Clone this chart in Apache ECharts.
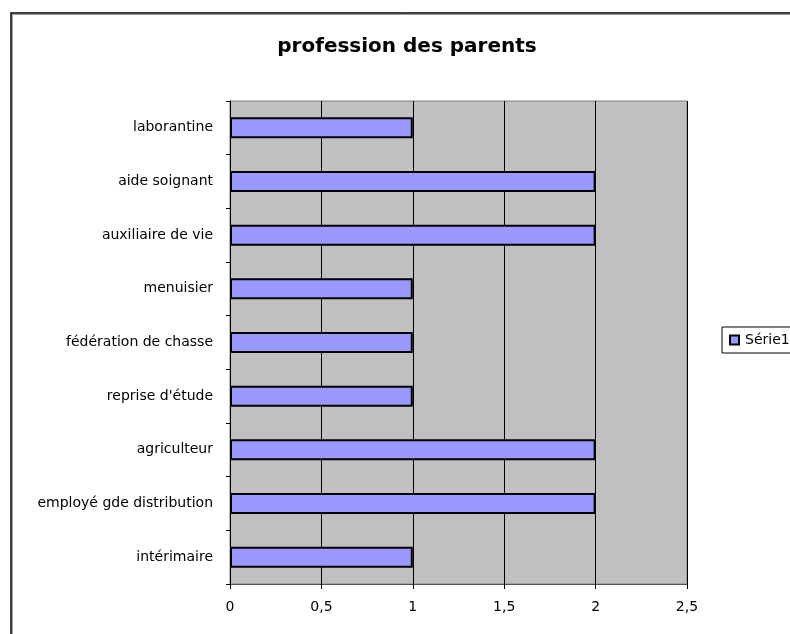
<!DOCTYPE html>
<html>
<head>
<meta charset="utf-8">
<script src="https://cdn.jsdelivr.net/npm/echarts@6/dist/echarts.min.js"></script>
<style>
html,body{margin:0;padding:0;background:#fff;}
#chart{width:790px;height:634px;}
</style>
</head>
<body>
<div id="chart"></div>
<script>
var titleText = 'profession des parents';
var categories = ['laborantine', 'aide soignant', 'auxiliaire de vie', 'menuisier', 'fédération de chasse', "reprise d'étude", 'agriculteur', 'employé gde distribution', 'intérimaire'];
var values = [1, 2, 2, 1, 1, 1, 2, 2, 1];
var seriesName = 'Série1';
var xMin = 0, xMax = 2.5, xStep = 0.5;

var chart = echarts.init(document.getElementById('chart'), null, {renderer: 'canvas'});
var font = 'DejaVu Sans, sans-serif';
chart.setOption({
  animation: false,
  backgroundColor: '#fff',
  textStyle: {fontFamily: font},
  title: {
    text: titleText,
    left: 402, top: 32, textAlign: 'center',
    textStyle: {fontFamily: font, fontSize: 20, fontWeight: 'bold', color: '#000'}
  },
  graphic: [
    {type: 'rect', shape: {x: 12.5, y: 14.5, width: 900, height: 900}, style: {fill: 'none', stroke: '#999', lineWidth: 1}, z: 0},
    {type: 'rect', shape: {x: 11, y: 13, width: 900, height: 900}, style: {fill: 'none', stroke: '#000', lineWidth: 1.5}, z: 1}
  ],
  legend: {
    left: 722, top: 327,
    orient: 'vertical',
    data: [seriesName],
    icon: 'rect', itemWidth: 9, itemHeight: 9, itemGap: 4,
    borderColor: '#000', borderWidth: 1, padding: [6, 10, 6, 7],
    textStyle: {fontFamily: font, fontSize: 14, color: '#000', padding: [0, 0, 0, 1]}
  },
  grid: {
    left: 230, top: 101, width: 457, height: 483,
    show: true, backgroundColor: '#c0c0c0', borderColor: '#808080', borderWidth: 1
  },
  xAxis: {
    type: 'value', min: xMin, max: xMax, interval: xStep,
    axisLine: {show: true, lineStyle: {color: '#555', width: 1}},
    axisTick: {show: true, length: 5, lineStyle: {color: '#000'}},
    splitLine: {show: true, lineStyle: {color: '#000', width: 1}},
    axisLabel: {color: '#000', fontSize: 14, fontFamily: font, margin: 16,
      formatter: function (v) { return String(v).replace('.', ','); }}
  },
  yAxis: {
    type: 'category', inverse: true, data: categories,
    axisLine: {show: true, lineStyle: {color: '#000', width: 1}},
    axisTick: {show: true, length: 4, inside: false, lineStyle: {color: '#000'}},
    axisLabel: {color: '#000', fontSize: 14, fontFamily: font, margin: 17}
  },
  series: [{
    type: 'bar', name: seriesName, data: values,
    barWidth: 21,
    itemStyle: {color: '#9999ff', borderColor: '#000', borderWidth: 2}
  }]
});
</script>
</body>
</html>
